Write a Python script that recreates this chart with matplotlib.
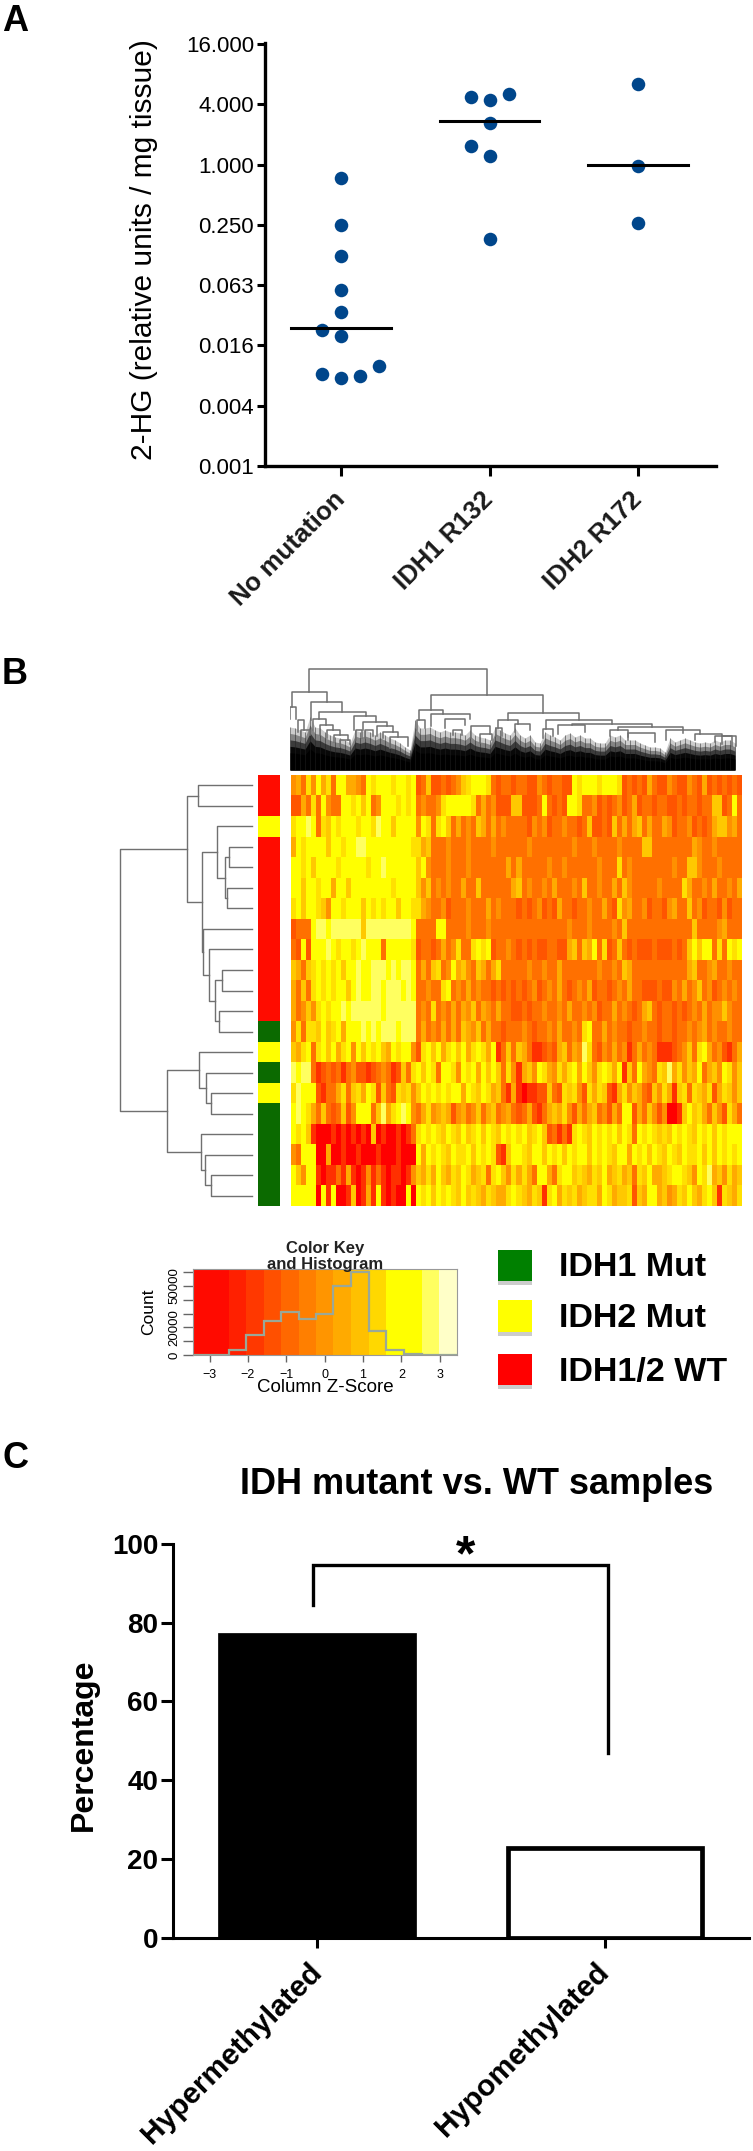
import numpy as np
import matplotlib
matplotlib.use('Agg')
import matplotlib.pyplot as plt
from matplotlib.colors import ListedColormap
from matplotlib.patches import Rectangle

plt.rcParams['font.family'] = ['Liberation Sans', 'DejaVu Sans']

W, H = 753, 2151

# panel A
groups_a = ['No mutation', 'IDH1 R132', 'IDH2 R172']
none_x = [0, 0, 0, 0, 0, -0.128, 0, 0.256, -0.128, 0.128, 0]
none_y = [0.732, 0.25, 0.122, 0.056, 0.0334, 0.0222, 0.0195, 0.0097, 0.0081, 0.0078, 0.0074]
r132_x = [0.872, 1, 1.128, 1, 0.872, 1, 1]
r132_y = [4.71, 4.36, 5.03, 2.6, 1.515, 1.21, 0.181]
r172_x = [2, 2, 2]
r172_y = [6.3, 0.97, 0.262]
medians_a = [0.0231, 2.7, 0.99]
ticks_a = [2.0 ** k for k in (4, 2, 0, -2, -4, -6, -8, -10)]
ticklabels_a = ['16.000', '4.000', '1.000', '0.250', '0.063', '0.016', '0.004', '0.001']

# panel B, heat map: one digit per column, 0 = red ... 9 = pale yellow
heat_rows = [
    '4537485738855438788878878' '23622323467888732332' '332243233228788878887232325322432243252323232',
    '2253738433887868348887878' '34334788888735342226' '622238323288733423234235233233223233233662383',
    '7889837687888788798868888' '48737863534365353433' '332434233433236223263535635335423342323566453',
    '5878888688788998888888887' '75633343334333343333' '334333333334333433334333366333333335433433333',
    '8878688887888887889888888' '68433343334333333353' '533333433433333343337343333333343366433343333',
    '8868878858868888888878888' '64634343353363333335' '634334353334363343353643333343333753343533435',
    '7868876488788868787886887' '75433423334333534333' '232342325332334335327453342332453363423324233',
    '2333899899999969999999998' '33338833334333433333' '333333333343334333343633333333333336333345333',
    '3282888987887898883888887' '23323534733787823343' '232322332256365837236323222322232368688373878',
    '6536787878688988999898998' '35367348564365357333' '334334335333333343343653333333333356334533433',
    '5363787878868988998999898' '33433783435343323232' '323423435323435233234353322232243534634234343',
    '5346478788989999998999999' '34373435354635435332' '232334334353343423353432356323323234353446433',
    '4737768678588898989998999' '35343535365463533233' '343233435334378335343323343323323343453433433',
    '6578378685784868786587884' '27868578685787581363' '653112325635497324353413534311123463785342135',
    '9899312323134221234312637' '86873887487858686374' '156487547578586478758163854376957465835648746',
    '7988821335736758726327674' '68787878858768756315' '101122632767427576215746532647516737657257646',
    '8987536323624888369578984' '35745652453463563453' '235213565742535634253882536424001686753642753',
    '8786100010101010601001013' '78787687686786876878' '786786231317876878786873878767687876878687888',
    '4388800500100100010001000' '85878768778687872168' '876886878687886878768858786876876877868687878',
    '8648810113151014131011014' '65758657687567378647' '575388537886765768567563768556788764879564756',
    '8888808180016015181010080' '87868787686765765578' '765761785767567758756672658856457686578617657',
]

# side colours per row: 0 green, 1 yellow, 2 red
side_rows = [2, 2, 1, 2, 2, 2, 2, 2, 2, 2, 2, 2, 0, 1, 0, 1, 0, 0, 0, 0, 0]

# row tree: child a, child b, height (nodes are numbered on from 21)
row_a = [0, 3, 5, 22, 2, 9, 11, 26, 8, 7, 25, 21, 15, 14, 13, 19, 18, 17, 35, 32]
row_b = [1, 4, 6, 23, 24, 10, 12, 27, 28, 29, 30, 31, 16, 33, 34, 20, 36, 37, 38, 39]
row_h = [54, 23, 25, 27, 35.5, 30, 33, 37, 43, 49, 50.5, 65, 41, 46, 53, 41, 47, 51, 85, 132]

# column tree, upper merges: left pos, right pos, height, left leg end, right leg end
col_p1 = [19, 2, 0, 21, 29, 64, 73, 23, 30, 37, 44, 50, 87, 93, 100, 8, 11, 66, 75,
          141, 129, 141, 127, 155, 163, 181, 190, 218, 208, 206, 225, 256, 253, 268, 282, 328, 320, 338, 376, 405, 425, 432]
col_p2 = [197, 37, 6, 52, 76, 86, 97, 36, 43, 50, 58, 60, 103, 108, 118, 14, 20, 72, 83,
          253, 153, 180, 135, 175, 172, 200, 202, 289, 228, 212, 240, 322, 263, 295, 362, 393, 338, 365, 410, 432, 442, 446]
col_h = [101, 78, 63, 68, 58, 54, 48, 51, 45, 40, 35, 30, 44, 38, 33, 50, 40, 40, 40,
         75, 60, 56, 50, 51, 40, 44, 36, 57, 50, 42, 46, 50, 41, 45, 46, 43, 40, 37, 40, 36, 34, 34]
col_l1 = [78, 63, 51, 50, 51, 40, 40, 40, 35, 32, 28, 24, 34, 32, 22, 38, 30, 30, 32,
          60, 50, 44, 40, 42, 35, 32, 27, 50, 42, 34, 38, 41, 32, 36, 45, 40, 34, 30, 30, 30, 28, 26]
col_l2 = [75, 68, 51, 58, 54, 48, 44, 45, 40, 35, 30, 26, 38, 33, 24, 40, 35, 32, 34,
          57, 56, 51, 42, 45, 35, 36, 30, 50, 46, 34, 40, 46, 34, 38, 43, 37, 33, 28, 36, 34, 24, 24]

# top of the dense leaf mass, read every 5 px along the heat map
leaf_pos = list(range(0, 450, 5))
leaf_top = [43, 42, 40, 38, 53, 43, 42, 38, 35, 33, 32, 30, 27, 40, 38, 40, 38, 35, 38, 35,
            32, 30, 27, 23, 20, 50, 42, 42, 43, 40, 38, 40, 38, 38, 37, 35, 40, 35, 33, 32,
            30, 43, 40, 37, 35, 42, 35, 32, 35, 28, 27, 38, 35, 33, 30, 35, 37, 33, 35, 32,
            32, 28, 27, 27, 35, 33, 35, 30, 30, 30, 27, 25, 23, 23, 22, 18, 32, 28, 30, 32,
            30, 28, 27, 28, 27, 30, 28, 30, 30, 27]

# colour key
key_edges = [-3.43, -2.5, -2.04, -1.59, -1.13, -0.67, -0.227, 0.227, 0.68, 1.15, 1.61, 2.07, 2.53, 2.97, 3.45]
key_colors = ['#ff0a00', '#ff2000', '#ff3800', '#ff5000', '#ff6800', '#ff7f00', '#ff9500',
              '#ffaa00', '#ffc000', '#ffd800', '#ffff00', '#ffff00', '#ffff60', '#ffffc8']
key_counts = [0, 3900, 14500, 24400, 31000, 26000, 29500, 50000, 60000, 17400, 3600, 1000, 0, 0]
legend_names = ['IDH1 Mut', 'IDH2 Mut', 'IDH1/2 WT']
legend_colors = ['#008000', '#ffff00', '#ff0000']

# panel C
groups_c = ['Hypermethylated', 'Hypomethylated']
percent_c = [76.8, 22.8]

heat_colors = ['#ff0000', '#ff3000', '#ff5500', '#ff7000', '#ff9000',
               '#ffaa00', '#ffc800', '#ffe000', '#ffff00', '#ffff60']
dark = '#00468b'


def add_ax(l, t, r, b):
    return fig.add_axes([l / W, 1 - b / H, (r - l) / W, (b - t) / H])


def ftext(x, y, s, **kw):
    return fig.text(x / W, 1 - y / H, s, **kw)


fig = plt.figure(figsize=(W / 100, H / 100), dpi=100)

# ---- A ----
ax = add_ax(265, 43, 716, 466)
ax.set_yscale('log', base=2)
ax.set_ylim(2.0 ** -10, 2.0 ** 4.03)
ax.set_xlim(-0.512, 2.525)
for xs, ys, m, c in zip((none_x, r132_x, r172_x), (none_y, r132_y, r172_y), medians_a, (0, 1, 2)):
    ax.scatter(xs, ys, s=95, color=dark, zorder=2, linewidths=0)
    ax.plot([c - 0.335, c + 0.335], [m, m], color='black', lw=2.2, zorder=3)
ax.set_yticks(ticks_a)
ax.set_yticklabels(ticklabels_a, fontsize=16)
ax.minorticks_off()
ax.set_xticks([0, 1, 2])
ax.set_xticklabels(groups_a, fontsize=18.5, rotation=45, ha='right', va='center',
                   rotation_mode='anchor', fontweight='bold', color='#1a1a1a')
ax.tick_params(axis='y', length=6, width=2.2, pad=2)
ax.tick_params(axis='x', length=7.5, width=2.2, pad=14)
ax.spines[['top', 'right']].set_visible(False)
ax.spines[['left', 'bottom']].set_linewidth(2.4)
ftext(144, 250, '2-HG (relative units / mg tissue)', fontsize=21.5, rotation=90, ha='center', va='center')
ftext(2, 31, 'A', fontsize=26, fontweight='bold')
ftext(2, 684, 'B', fontsize=26, fontweight='bold')
ftext(2, 1468, 'C', fontsize=26, fontweight='bold')

# ---- B heat map ----
heat = np.array([[int(c) for c in r.ljust(90, r[-1])[:90]] for r in heat_rows])
ax = add_ax(291, 775, 742, 1206)
ax.imshow(heat, aspect='auto', cmap=ListedColormap(heat_colors), vmin=-0.5, vmax=9.5, interpolation='nearest')
ax.axis('off')

ax = add_ax(258, 775, 280, 1206)
ax.imshow(np.array(side_rows)[:, None], aspect='auto',
          cmap=ListedColormap(['#0b6a00', '#ffff00', '#ff0c00']), vmin=-0.5, vmax=2.5, interpolation='nearest')
ax.axis('off')

# row tree
ax = add_ax(120, 775, 252, 1206)
ax.set_xlim(132, 0)
ax.set_ylim(20.5, -0.5)
ax.axis('off')
node_y = {i: float(i) for i in range(21)}
node_h = {i: 0.0 for i in range(21)}
for n, (a, b, h) in enumerate(zip(row_a, row_b, row_h)):
    ax.plot([node_h[a], h, h, node_h[b]], [node_y[a], node_y[a], node_y[b], node_y[b]],
            color='#707070', lw=1, clip_on=False)
    node_y[21 + n] = (node_y[a] + node_y[b]) / 2
    node_h[21 + n] = h

# column tree
ax = add_ax(290, 659, 740, 770)
ax.set_xlim(0, 450)
ax.set_ylim(0, 111)
ax.axis('off')
top = np.array(leaf_top, dtype=float)
for frac, a in ((1.0, 0.2), (0.85, 0.35), (0.7, 0.55), (0.55, 0.85), (0.4, 1.0)):
    ax.fill_between(leaf_pos, 0, top * frac, color='black', alpha=a, lw=0)
ax.vlines(leaf_pos, 0, top, color='#222222', lw=0.7, alpha=0.5)
for p1, p2, h, l1, l2 in zip(col_p1, col_p2, col_h, col_l1, col_l2):
    ax.plot([p1, p1, p2, p2], [l1, h, h, l2], color='#707070', lw=1.1)

# colour key
ax = add_ax(193, 1269, 457, 1355)
ax.set_xlim(-3.43, 3.45)
ax.set_ylim(0, 62300)
for i in range(len(key_colors)):
    ax.axvspan(key_edges[i], key_edges[i + 1], color=key_colors[i], lw=0)
ax.stairs(key_counts, key_edges, color='#9aa898', lw=1.6)
ax.set_xticks([-3, -2, -1, 0, 1, 2, 3])
ax.set_yticks([0, 10000, 20000, 30000, 40000, 50000, 60000])
ax.set_yticklabels(['0', '', '20000', '', '', '50000', ''], rotation=90, va='center', fontsize=9.5)
ax.tick_params(axis='x', labelsize=9, length=5, width=1, color='#666666', pad=5)
ax.tick_params(axis='y', length=7, width=1, color='#666666', pad=2)
for s in ax.spines.values():
    s.set_color('#999999')
ftext(325, 1392, 'Column Z-Score', fontsize=13.5, ha='center', va='baseline')
ftext(325, 1249, 'Color Key', fontsize=12, fontweight='bold', ha='center', va='center', color='#222222')
ftext(325, 1265, 'and Histogram', fontsize=12, fontweight='bold', ha='center', va='center', color='#222222')
ftext(149, 1312, 'Count', fontsize=12.5, rotation=90, ha='center', va='center')

# legend boxes
for name, col, t, b in zip(legend_names, legend_colors, (1250, 1300, 1354), (1281, 1332, 1385)):
    fig.patches.append(Rectangle((498 / W, 1 - (b + 4) / H), 34 / W, (b - t) / H, transform=fig.transFigure,
                                 facecolor='#cccccc', edgecolor='none'))
    fig.patches.append(Rectangle((498 / W, 1 - b / H), 34 / W, (b - t) / H, transform=fig.transFigure,
                                 facecolor=col, edgecolor='none'))
    ftext(559, (t + b) / 2 + 11, name, fontsize=24.5, fontweight='bold', va='baseline')

# ---- C ----
ax = add_ax(173, 1544, 749, 1937.5)
ax.set_xlim(-0.5, 1.5)
ax.set_ylim(0, 100)
ax.bar([0, 1], percent_c, width=0.675, color=['black', 'white'], edgecolor='black', linewidth=3.4)
ax.plot([-0.014, -0.014, 1.01, 1.01], [84.6, 94.7, 94.7, 47], color='black', lw=2.4, solid_joinstyle='miter')
ax.text(0.517, 96.5, '*', fontsize=36, fontweight='bold', ha='center', va='center', clip_on=False)
ax.set_xticks([0, 1])
ax.set_xticklabels(groups_c, fontsize=21.5, fontweight='bold', rotation=45, ha='right', va='center',
                   rotation_mode='anchor')
ax.set_yticks([0, 20, 40, 60, 80, 100])
ax.set_yticklabels(['0', '20', '40', '60', '80', '100'], fontsize=20, fontweight='bold')
ax.tick_params(axis='y', length=8.5, width=2.2, pad=2)
ax.tick_params(axis='x', length=7.5, width=2.2, pad=14)
ax.spines[['top', 'right']].set_visible(False)
ax.spines[['left', 'bottom']].set_linewidth(2.2)
ftext(84, 1745, 'Percentage', fontsize=23, fontweight='bold', rotation=90, ha='center', va='center')
ftext(477, 1484, 'IDH mutant vs. WT samples', fontsize=26, fontweight='bold', ha='center', va='center')

fig.savefig('out.png', dpi=100)
